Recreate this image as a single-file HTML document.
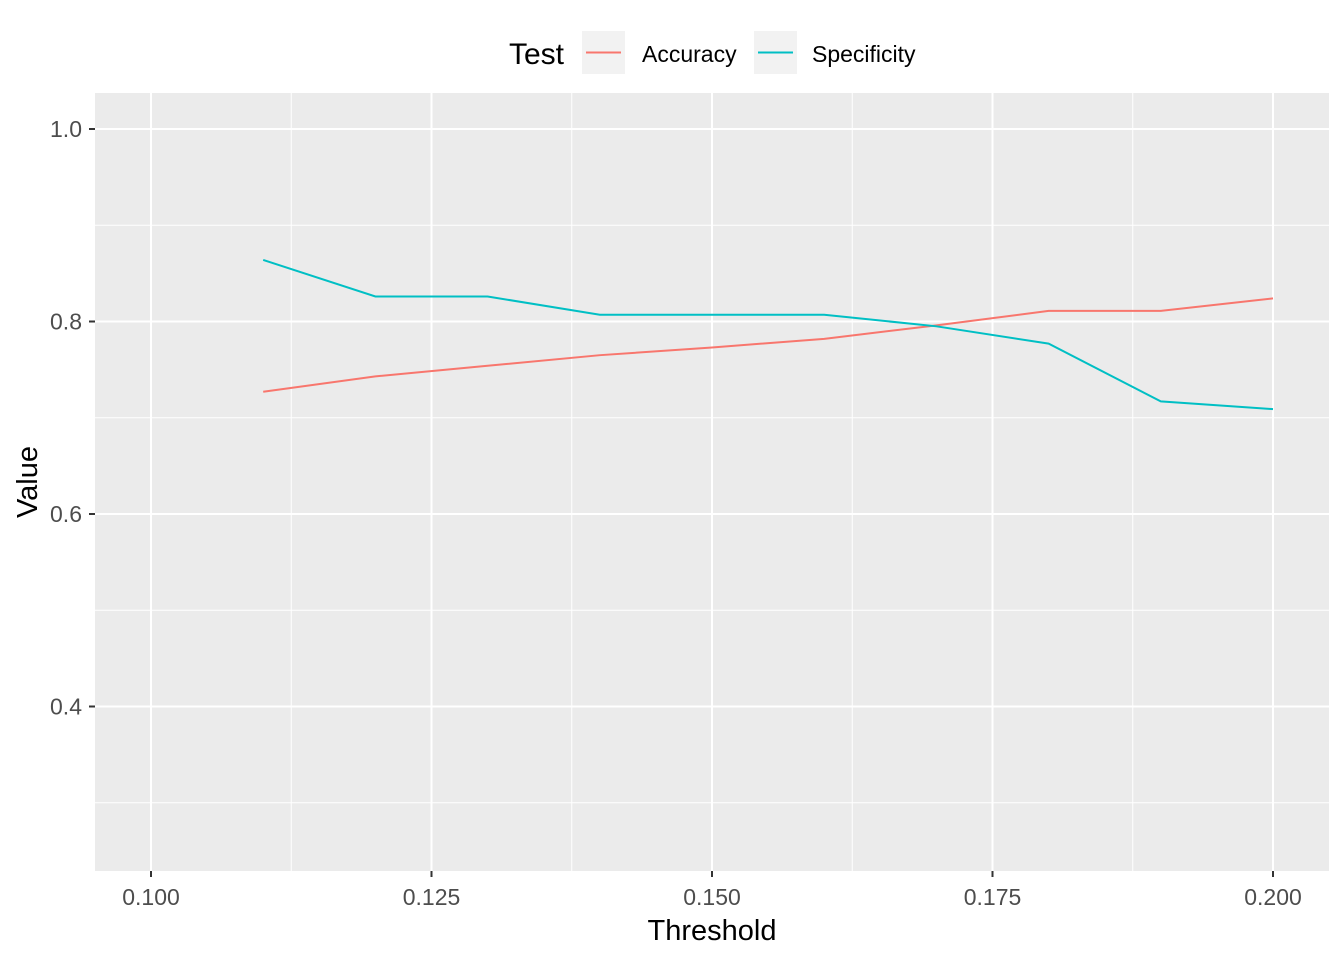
<!DOCTYPE html>
<html><head><meta charset="utf-8"><style>body{margin:0;background:#fff}svg{display:block;font-family:"Liberation Sans",Arial,sans-serif}</style></head>
<body>
<svg id="chart" width="1344" height="960" viewBox="0 0 1344 960">
<rect x="95" y="93" width="1234" height="778" fill="#ebebeb"/>
<g id="grid"></g>
<g id="lines"></g>
<g id="axes"></g>
<text x="712" y="940" font-size="29" text-anchor="middle" fill="#000">Threshold</text>
<text transform="translate(37,482) rotate(-90)" font-size="29" text-anchor="middle" fill="#000">Value</text>
<g>
<text x="509" y="64" font-size="30" fill="#000">Test</text>
<rect x="582" y="31" width="43" height="43" fill="#f2f2f2"/>
<line x1="586" y1="52.5" x2="621" y2="52.5" stroke="#F8766D" stroke-width="2"/>
<text x="642" y="62" font-size="23" fill="#000">Accuracy</text>
<rect x="754" y="31" width="43" height="43" fill="#f2f2f2"/>
<line x1="758" y1="52.5" x2="793" y2="52.5" stroke="#00BFC4" stroke-width="2"/>
<text x="812" y="62" font-size="23" fill="#000">Specificity</text>
</g>
</svg>
<script>
const thresholds=[0.11,0.12,0.13,0.14,0.15,0.16,0.17,0.18,0.19,0.20];
const accuracy=[0.727,0.743,0.754,0.765,0.773,0.782,0.796,0.811,0.811,0.824];
const specificity=[0.864,0.826,0.826,0.807,0.807,0.807,0.795,0.777,0.717,0.709];
const xTicks=[0.100,0.125,0.150,0.175,0.200];
const xTickLabels=["0.100","0.125","0.150","0.175","0.200"];
const yTicks=[0.4,0.6,0.8,1.0];
const yTickLabels=["0.4","0.6","0.8","1.0"];
const X=v=>151+(v-0.1)*11220;
const Y=v=>129+(1-v)*962.5;
const NS="http://www.w3.org/2000/svg";
function mk(tag,attrs,parent){const e=document.createElementNS(NS,tag);for(const k in attrs)e.setAttribute(k,attrs[k]);parent.appendChild(e);return e;}
const grid=document.getElementById('grid'),axes=document.getElementById('axes'),lines=document.getElementById('lines');
for(let i=0;i<xTicks.length-1;i++){const m=(xTicks[i]+xTicks[i+1])/2;
 const l=mk('line',{x1:X(m),x2:X(m),y1:93,y2:871,stroke:'#fff','stroke-width':1},grid);
 
 }
for(let i=0;i<yTicks.length;i++){const m=yTicks[i]-0.1;
 const l=mk('line',{x1:95,x2:1329,y1:Y(m),y2:Y(m),stroke:'#fff','stroke-width':1},grid);
 
 }
xTicks.forEach((t,i)=>{
 const l=mk('line',{x1:X(t),x2:X(t),y1:93,y2:871,stroke:'#fff','stroke-width':2},grid);
 
 
 const k=mk('line',{x1:X(t),x2:X(t),y1:871,y2:877,stroke:'#333','stroke-width':2},axes);
 
 
 const tx=mk('text',{x:X(t),y:905,'font-size':23,'text-anchor':'middle',fill:'#4d4d4d'},axes);
 tx.textContent=xTickLabels[i];
 
 
});
yTicks.forEach((t,i)=>{
 const l=mk('line',{x1:95,x2:1329,y1:Y(t),y2:Y(t),stroke:'#fff','stroke-width':2},grid);
 
 
 const k=mk('line',{x1:89,x2:95,y1:Y(t),y2:Y(t),stroke:'#333','stroke-width':2},axes);
 
 
 const tx=mk('text',{x:82,y:Y(t)+8,'font-size':23,'text-anchor':'end',fill:'#4d4d4d'},axes);
 tx.textContent=yTickLabels[i];
 
 
});
function series(vals,color,name){
 const p=mk('polyline',{points:thresholds.map((t,i)=>X(t)+','+Y(vals[i])).join(' '),fill:'none',stroke:color,'stroke-width':2},lines);
 
 
}
series(accuracy,'#F8766D','accuracy-line');
series(specificity,'#00BFC4','specificity-line');
</script>
</body></html>
